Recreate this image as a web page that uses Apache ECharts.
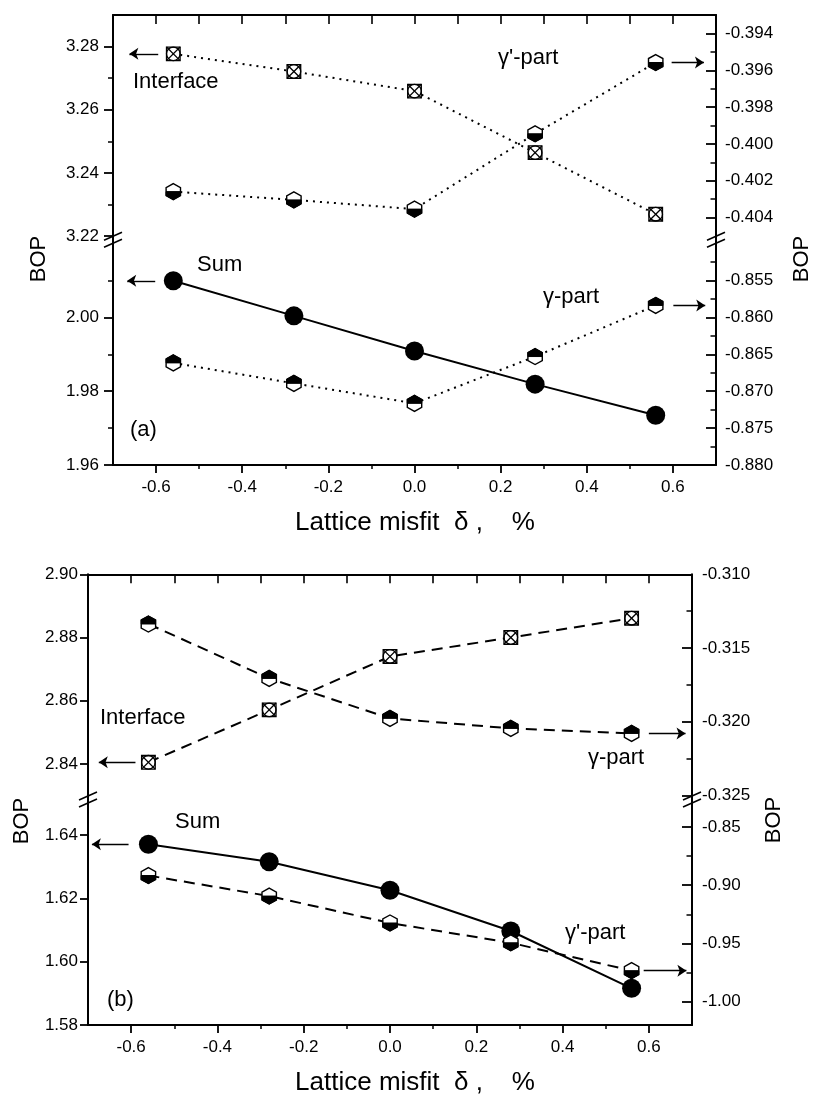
<!DOCTYPE html>
<html>
<head>
<meta charset="utf-8">
<title>BOP versus lattice misfit</title>
<script src="https://cdn.jsdelivr.net/npm/echarts@6/dist/echarts.min.js"></script>
<style>
  html, body { margin: 0; padding: 0; background: #fff; }
  #chart { width: 814px; height: 1094px; }
</style>
</head>
<body>
<div id="chart"></div>
<script>
// Lattice misfit delta (%) at which each bond order parameter was evaluated
const misfit = [-0.56, -0.28, 0.0, 0.28, 0.56];

// Panel (a)
const aInterface  = [3.2777, 3.2721, 3.2659, 3.2464, 3.2269];        // left axis, upper part
const aGammaPrime = [-0.40259, -0.40304, -0.40354, -0.39945, -0.39558]; // right axis, upper part
const aSum        = [2.0099, 2.0004, 1.9909, 1.9819, 1.9735];        // left axis, lower part
const aGamma      = [-0.86617, -0.86894, -0.87165, -0.86531, -0.85839]; // right axis, lower part

// Panel (b)
const bInterface  = [2.8405, 2.8571, 2.8740, 2.8800, 2.8861];        // left axis, upper part
const bGamma      = [-0.31337, -0.31706, -0.31977, -0.32045, -0.32079]; // right axis, upper part
const bSum        = [1.6371, 1.6316, 1.6226, 1.6097, 1.5916];        // left axis, lower part
const bGammaPrime = [-0.8918, -0.9094, -0.9325, -0.9495, -0.9734];   // right axis, lower part

// Tick values
const xTicks      = [-0.6, -0.4, -0.2, 0.0, 0.2, 0.4, 0.6];
const xMinorTicks = [-0.5, -0.3, -0.1, 0.1, 0.3, 0.5];
const xTopTicks   = [-0.6, -0.5, -0.4, -0.3, -0.2, -0.1, 0.0, 0.1, 0.2, 0.3, 0.4, 0.5, 0.6];

const aUpperLeftTicks  = [3.22, 3.24, 3.26, 3.28];
const aUpperLeftMinor  = [3.23, 3.25, 3.27];
const aUpperRightTicks = [-0.404, -0.402, -0.400, -0.398, -0.396, -0.394];
const aUpperRightMinor = [-0.403, -0.401, -0.399, -0.397, -0.395];
const aLowerLeftTicks  = [1.96, 1.98, 2.00];
const aLowerLeftMinor  = [1.97, 1.99, 2.01];
const aLowerRightTicks = [-0.880, -0.875, -0.870, -0.865, -0.860, -0.855];
const aLowerRightMinor = [-0.8775, -0.8725, -0.8675, -0.8625, -0.8575, -0.8525];

const bUpperLeftTicks  = [2.84, 2.86, 2.88, 2.90];
const bUpperRightTicks = [-0.325, -0.320, -0.315, -0.310];
const bUpperRightMinor = [-0.3225, -0.3175, -0.3125];
const bLowerLeftTicks  = [1.58, 1.60, 1.62, 1.64];
const bLowerRightTicks = [-1.00, -0.95, -0.90, -0.85];
const bLowerRightMinor = [-0.975, -0.925, -0.875];

// ---------------------------------------------------------------------------
const FONT = '"Liberation Sans", Arial, Helvetica, sans-serif';
const INK = '#000';
const DOTTED = [2, 5];
const DASHED = [11, 7];
const TICK_FONT = 17;

const grids = [], xAxes = [], yAxes = [], series = [], graphic = [];

function addGrid(l, r, t, b) {
  grids.push({ left: l, top: t, width: r - l, height: b - t, containLabel: false });
  return grids.length - 1;
}

function addXAxis(grid, atTop) {
  const base = { type: 'value', gridIndex: grid, min: -0.7, max: 0.7, splitLine: { show: false } };
  if (atTop) {
    xAxes.push(Object.assign({}, base, {
      position: 'top',
      axisLine: { show: true, onZero: false, lineStyle: { color: INK, width: 2 } },
      axisTick: { show: true, inside: true, length: 9, customValues: xTopTicks, lineStyle: { color: INK, width: 1.6 } },
      axisLabel: { show: false }
    }));
    return xAxes.length - 1;
  }
  xAxes.push(Object.assign({}, base, {
    position: 'bottom',
    axisLine: { show: true, onZero: false, lineStyle: { color: INK, width: 2 } },
    axisTick: { show: true, inside: false, length: 8, customValues: xTicks, lineStyle: { color: INK, width: 1.8 } },
    axisLabel: { show: true, customValues: xTicks, formatter: v => Number(v).toFixed(1),
                 margin: 14, fontSize: TICK_FONT, color: INK, fontFamily: FONT }
  }));
  const idx = xAxes.length - 1;
  xAxes.push(Object.assign({}, base, {
    position: 'bottom',
    axisLine: { show: false, onZero: false },
    axisTick: { show: true, inside: false, length: 4, customValues: xMinorTicks, lineStyle: { color: INK, width: 1.5 } },
    axisLabel: { show: false }
  }));
  return idx;
}

function addYAxis(grid, side, s) {
  const inward = side === 'right';
  const base = { type: 'value', gridIndex: grid, position: side, min: s.min, max: s.max, splitLine: { show: false } };
  yAxes.push(Object.assign({}, base, {
    axisLine: { show: true, onZero: false, lineStyle: { color: INK, width: 2 } },
    axisTick: { show: true, inside: inward, length: s.len, customValues: s.ticks, lineStyle: { color: INK, width: 1.8 } },
    axisLabel: { show: true, customValues: s.ticks, formatter: v => Number(v).toFixed(s.dec),
                 margin: s.margin, fontSize: TICK_FONT, color: INK, fontFamily: FONT }
  }));
  const idx = yAxes.length - 1;
  if (s.minor && s.minor.length) {
    yAxes.push(Object.assign({}, base, {
      axisLine: { show: false, onZero: false },
      axisTick: { show: true, inside: inward, length: inward ? 5.5 : 5, customValues: s.minor, lineStyle: { color: INK, width: 1.5 } },
      axisLabel: { show: false }
    }));
  }
  return idx;
}

// marker shapes drawn at the data position returned by the axes
function drawMarker(kind, p) {
  const cx = p[0], cy = p[1];
  if (kind === 'box') {
    const r = 6.8;
    const st = { stroke: INK, lineWidth: 1.3, fill: null };
    return { type: 'group', children: [
      { type: 'rect', shape: { x: cx - r, y: cy - r, width: 2 * r, height: 2 * r }, style: { fill: '#fff', stroke: INK, lineWidth: 1.3 } },
      { type: 'circle', shape: { cx: cx, cy: cy, r: r }, style: st },
      { type: 'line', shape: { x1: cx - r, y1: cy - r, x2: cx + r, y2: cy + r }, style: st },
      { type: 'line', shape: { x1: cx + r, y1: cy - r, x2: cx - r, y2: cy + r }, style: st }
    ] };
  }
  const w = 7.2, h = 8, s = 4;
  const shift = q => [cx + q[0], cy + q[1]];
  const hex = [[0, -h], [w, -s], [w, s], [0, h], [-w, s], [-w, -s]].map(shift);
  const half = (kind === 'hexDarkTop'
    ? [[-w, 0], [-w, -s], [0, -h], [w, -s], [w, 0]]
    : [[-w, 0], [w, 0], [w, s], [0, h], [-w, s]]).map(shift);
  return { type: 'group', children: [
    { type: 'polygon', shape: { points: hex }, style: { fill: '#fff', stroke: INK, lineWidth: 1.4 } },
    { type: 'polygon', shape: { points: half }, style: { fill: INK, stroke: INK, lineWidth: 1 } }
  ] };
}

function addCurve(xi, yi, values, opts) {
  const pts = misfit.map((x, i) => [x, values[i]]);
  const k = opts.arrowTo === 'left' ? 0 : values.length - 1;
  series.push({
    type: 'line', xAxisIndex: xi, yAxisIndex: yi, data: pts, silent: true, z: 2,
    symbol: opts.marker === 'dot' ? 'circle' : 'none', symbolSize: 19, showSymbol: opts.marker === 'dot',
    itemStyle: { color: INK },
    lineStyle: { color: INK, width: 2, type: opts.dash || 'solid' },
    markLine: {
      silent: true, symbol: ['none', 'arrow'], symbolSize: 9, animation: false,
      label: { show: false },
      lineStyle: { color: INK, width: 1.4, type: 'solid' },
      data: [[{ coord: [opts.arrow[0], values[k]] }, { coord: [opts.arrow[1], values[k]] }]]
    }
  });
  if (opts.marker !== 'dot') {
    series.push({
      type: 'custom', xAxisIndex: xi, yAxisIndex: yi, data: pts, z: 4, silent: true,
      encode: { x: 0, y: 1 },
      renderItem: (params, api) => drawMarker(opts.marker, api.coord([api.value(0), api.value(1)]))
    });
  }
}

function text(str, x, y, size, align) {
  graphic.push({
    type: 'text', x: x, y: y, silent: true,
    style: { text: str, fill: INK, font: size + 'px ' + FONT, textAlign: align || 'left', textVerticalAlign: 'middle' }
  });
}

function vtitle(str, x, y) {
  graphic.push({
    type: 'text', x: x, y: y, rotation: Math.PI / 2, silent: true,
    style: { text: str, fill: INK, font: '22px ' + FONT, textAlign: 'center', textVerticalAlign: 'middle' }
  });
}

function axisBreak(x, yTop, yBot) {
  const yc = (yTop + yBot) / 2;
  const st = { stroke: INK, lineWidth: 1.6 };
  graphic.push({ type: 'line', silent: true, shape: { x1: x, y1: yTop, x2: x, y2: yBot }, style: { stroke: INK, lineWidth: 2 } });
  graphic.push({ type: 'line', silent: true, shape: { x1: x - 9, y1: yc + 0.5, x2: x + 9, y2: yc - 7.5 }, style: st });
  graphic.push({ type: 'line', silent: true, shape: { x1: x - 9, y1: yc + 7.5, x2: x + 9, y2: yc - 0.5 }, style: st });
}

const X_TITLE = 'Lattice misfit  \u03b4 ,    %';

// ---------------- panel (a) ----------------
{
  const L = 113, R = 716, up = [15, 236], lo = [243.5, 465];
  const gU = addGrid(L, R, up[0], up[1]);
  const gL = addGrid(L, R, lo[0], lo[1]);
  const xU = addXAxis(gU, true);
  const xL = addXAxis(gL, false);
  const yUL = addYAxis(gU, 'left',  { min: 3.22, max: 3.29, ticks: aUpperLeftTicks, minor: aUpperLeftMinor, dec: 2, margin: 14, len: 9 });
  const yUR = addYAxis(gU, 'right', { min: -0.405, max: -0.393, ticks: aUpperRightTicks, minor: aUpperRightMinor, dec: 3, margin: 9, len: 10 });
  const yLL = addYAxis(gL, 'left',  { min: 1.96, max: 2.02, ticks: aLowerLeftTicks, minor: aLowerLeftMinor, dec: 2, margin: 14, len: 9 });
  const yLR = addYAxis(gL, 'right', { min: -0.880, max: -0.850, ticks: aLowerRightTicks, minor: aLowerRightMinor, dec: 3, margin: 9, len: 10 });

  addCurve(xU, yUL, aInterface,  { dash: DOTTED, marker: 'box',           arrowTo: 'left',  arrow: [-0.595, -0.662] });
  addCurve(xU, yUR, aGammaPrime, { dash: DOTTED, marker: 'hexDarkBottom', arrowTo: 'right', arrow: [0.597, 0.672] });
  addCurve(xL, yLL, aSum,        { dash: 'solid', marker: 'dot',          arrowTo: 'left',  arrow: [-0.602, -0.667] });
  addCurve(xL, yLR, aGamma,      { dash: DOTTED, marker: 'hexDarkTop',    arrowTo: 'right', arrow: [0.601, 0.675] });

  axisBreak(L, up[1], lo[0]);
  axisBreak(R, up[1], lo[0]);

  text('Interface', 133, 82, 22);
  text("\u03b3'-part", 498, 58, 22);
  text('Sum', 197, 265, 22);
  text('\u03b3-part', 543, 297, 22);
  text('(a)', 130, 430, 22);
  vtitle('BOP', 39, 259);
  vtitle('BOP', 802, 259);
  text(X_TITLE, 415, 523, 26, 'center');
}

// ---------------- panel (b) ----------------
{
  const L = 88, R = 692, up = [574.3, 795.5], lo = [803.5, 1025];
  const gU = addGrid(L, R, up[0], up[1]);
  const gL = addGrid(L, R, lo[0], lo[1]);
  const xU = addXAxis(gU, true);
  const xL = addXAxis(gL, false);
  const yUL = addYAxis(gU, 'left',  { min: 2.83, max: 2.90, ticks: bUpperLeftTicks, minor: [], dec: 2, margin: 10, len: 8 });
  const yUR = addYAxis(gU, 'right', { min: -0.325, max: -0.310, ticks: bUpperRightTicks, minor: bUpperRightMinor, dec: 3, margin: 10, len: 10 });
  const yLL = addYAxis(gL, 'left',  { min: 1.58, max: 1.65, ticks: bLowerLeftTicks, minor: [], dec: 2, margin: 10, len: 8 });
  const yLR = addYAxis(gL, 'right', { min: -1.02, max: -0.83, ticks: bLowerRightTicks, minor: bLowerRightMinor, dec: 2, margin: 10, len: 10 });

  addCurve(xU, yUL, bInterface,  { dash: DASHED, marker: 'box',           arrowTo: 'left',  arrow: [-0.590, -0.675] });
  addCurve(xU, yUR, bGamma,      { dash: DASHED, marker: 'hexDarkTop',    arrowTo: 'right', arrow: [0.600, 0.685] });
  addCurve(xL, yLL, bSum,        { dash: 'solid', marker: 'dot',          arrowTo: 'left',  arrow: [-0.606, -0.691] });
  addCurve(xL, yLR, bGammaPrime, { dash: DASHED, marker: 'hexDarkBottom', arrowTo: 'right', arrow: [0.588, 0.687] });

  axisBreak(L, up[1], lo[0]);
  axisBreak(R, up[1], lo[0]);

  text('Interface', 100, 718, 22);
  text('\u03b3-part', 588, 758, 22);
  text('Sum', 175, 822, 22);
  text("\u03b3'-part", 565, 933, 22);
  text('(b)', 107, 1000, 22);
  vtitle('BOP', 22, 821);
  vtitle('BOP', 774, 820);
  text(X_TITLE, 415, 1083, 26, 'center');
}

const chart = echarts.init(document.getElementById('chart'), null, { renderer: 'canvas' });
chart.setOption({
  animation: false,
  backgroundColor: '#fff',
  textStyle: { fontFamily: FONT },
  grid: grids,
  xAxis: xAxes,
  yAxis: yAxes,
  series: series,
  graphic: graphic
});
</script>
</body>
</html>
